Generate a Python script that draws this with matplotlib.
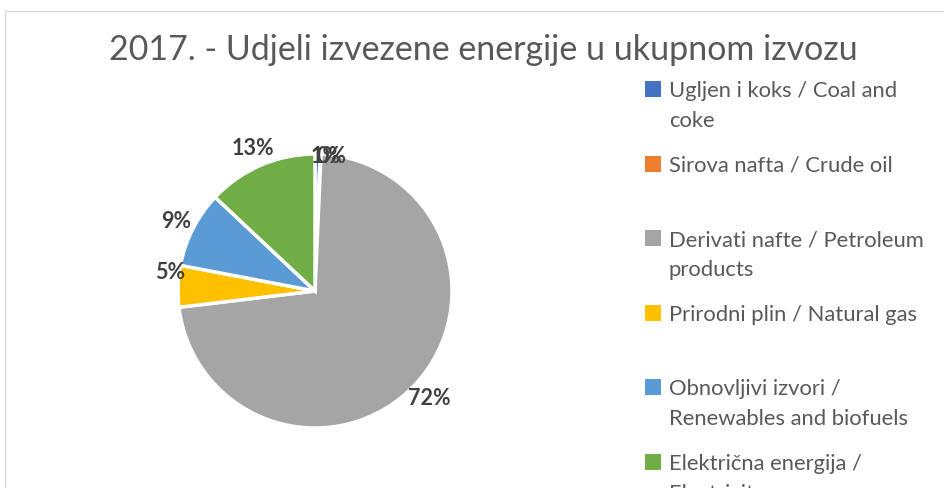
import matplotlib
matplotlib.use("Agg")
import matplotlib.pyplot as plt
from matplotlib.patches import Rectangle
import numpy as np

plt.rcParams["font.family"] = ["Lato", "DejaVu Sans"]

# podaci
labels = [
    "Ugljen i koks / Coal and\ncoke",
    "Sirova nafta / Crude oil",
    "Derivati nafte / Petroleum\nproducts",
    "Prirodni plin / Natural gas",
    "Obnovljivi izvori /\nRenewables and biofuels",
    "Električna energija /\nElectricity",
]
shares = [0.6, 0.1, 72.4, 4.9, 9.0, 13.0]
colors = ["#4472C4", "#ED7D31", "#A5A5A5", "#FFC000", "#5B9BD5", "#70AD47"]
title = "2017. - Udjeli izvezene energije u ukupnom izvozu"

W, H = 944, 489
fig = plt.figure(figsize=(W / 100, H / 100), dpi=100)

# okvir grafikona
fig.patches.append(Rectangle((5 / W, -0.1), 1.2, 1 - 12 / H + 0.1, transform=fig.transFigure,
                             fill=False, edgecolor="#D9D9D9", linewidth=1))

fig.text(483 / W, 1 - 50 / H, title, ha="center", va="center", fontsize=24.5,
         color="#595959")

cx, cy, r = 315, 292, 137
ax = fig.add_axes([(cx - r) / W, (H - cy - r) / H, 2 * r / W, 2 * r / H])
wedges, texts, autotexts = ax.pie(
    shares, colors=colors, startangle=90, counterclock=False, radius=1,
    autopct="%.0f%%", pctdistance=1.14,
    wedgeprops=dict(edgecolor="white", linewidth=2.5),
    textprops=dict(fontsize=15.5, fontweight="bold", color="#404040"),
)
# male kriske: oznake na rubu
for k, (w, t) in enumerate(zip(wedges[:2], autotexts[:2])):
    ang = np.deg2rad((w.theta1 + w.theta2) / 2)
    t.set_position((0.06 + 0.02 * k + np.cos(ang), 0.99 * np.sin(ang)))
# 5% malo više, kao u Excelu
px, py = autotexts[3].get_position()
autotexts[3].set_position((px + 0.08, py + 0.1))
ax.set_xlim(-1, 1)
ax.set_ylim(-1, 1)
ax.set_aspect("equal")
ax.axis("off")

# legenda
y0, step = 90, 74.6
for i, (lab, c) in enumerate(zip(labels, colors)):
    y = y0 + i * step
    fig.patches.append(Rectangle((645 / W, 1 - (y + 8) / H), 16 / W, 16 / H,
                                 transform=fig.transFigure, facecolor=c, edgecolor="none"))
    for j, ln in enumerate(lab.split("\n")):
        fig.text(669 / W, 1 - (y + 7 + j * 30) / H, ln, ha="left", va="baseline",
                 fontsize=15.8, color="#595959")

fig.savefig("out.png", dpi=100)
